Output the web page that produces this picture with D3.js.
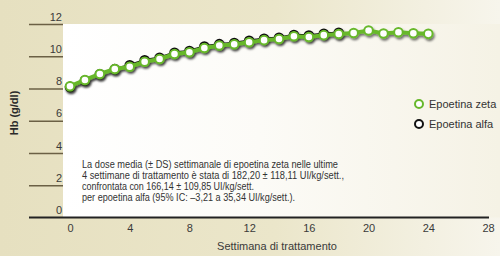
<html>
  <head>
    <style>
      body {
        margin:0;
        font-family:"Liberation Sans Narrow", "Liberation Sans", Arial, sans-serif;
      }
      .axis text {
        fill:#3a3a3a;
        font-size:11px;
      }
      .note text {
        fill:#333;
        font-size:10px;
      }
    </style>
  </head>
  <body>
    <div class="graph"></div>
    <script src="https://d3js.org/d3.v7.min.js"></script>
    <script>
      var weeks = d3.range(0, 25);
      var zeta = [8.14, 8.53, 8.90, 9.21, 9.35, 9.66, 9.83, 10.14, 10.25, 10.51, 10.67, 10.74, 10.87,
                  11.00, 11.07, 11.24, 11.19, 11.31, 11.38, 11.44, 11.60, 11.41, 11.49, 11.43, 11.39];
      var alfa = [8.10, 8.50, 8.88, 9.20, 9.44, 9.75, 9.91, 10.22, 10.33, 10.60, 10.75, 10.82, 10.96,
                  11.08, 11.15, 11.32, 11.28, 11.39, 11.46];
      var yTicks = [0, 2, 4, 6, 8, 10, 12];
      var xTicks = [0, 4, 8, 12, 16, 20, 24, 28];
      var seriesNames = ["Epoetina zeta", "Epoetina alfa"];
      var noteLines = [
        "La dose media (\u00b1 DS) settimanale di epoetina zeta nelle ultime",
        "4 settimane di trattamento \u00e8 stata di 182,20 \u00b1 118,11 UI/kg/sett.,",
        "confrontata con 166,14 \u00b1 109,85 UI/kg/sett.",
        "per epoetina alfa (95% IC: \u20133,21 a 35,34 UI/kg/sett.)."
      ];
      var noteWidths = [256, 262, 172, 213];

      var width = 500;
      var height = 256;
      var green = "#67b82c";

      var x = d3.scaleLinear().domain([0, 28]).range([70, 488]);
      var y = d3.scaleLinear().domain([0, 12]).range([217.5, 24]);

      var svg = d3.select(".graph").append("svg")
        .attr("width", width)
        .attr("height", height);

      var defs = svg.append("defs");
      var bg = defs.append("linearGradient").attr("id", "bg")
        .attr("x1", 0).attr("x2", 1).attr("y1", 0).attr("y2", 0);
      bg.append("stop").attr("offset", "0").attr("stop-color", "#e6e0c0");
      bg.append("stop").attr("offset", "0.55").attr("stop-color", "#ebe6ca");
      bg.append("stop").attr("offset", "1").attr("stop-color", "#f7f5ec");
      var plotBg = defs.append("linearGradient").attr("id", "plotbg")
        .attr("x1", 0).attr("x2", 1).attr("y1", 0).attr("y2", 0);
      plotBg.append("stop").attr("offset", "0").attr("stop-color", "#ffffff");
      plotBg.append("stop").attr("offset", "0.45").attr("stop-color", "#fcfbf7");
      plotBg.append("stop").attr("offset", "1").attr("stop-color", "#f5f2e5");
      var shadow = defs.append("filter").attr("id", "shadow")
        .attr("x", "-10%").attr("y", "-20%").attr("width", "130%").attr("height", "160%");
      shadow.append("feDropShadow")
        .attr("dx", 1.2).attr("dy", 2).attr("stdDeviation", 1)
        .attr("flood-color", "#000").attr("flood-opacity", 0.55);

      svg.append("rect")
        .attr("width", width).attr("height", height)
        .attr("fill", "url(#bg)");
      svg.append("rect")
        .attr("x", 63).attr("y", y(12))
        .attr("width", width - 63).attr("height", y(0) - y(12))
        .attr("fill", "url(#plotbg)");

      // y axis: ticks as long lines to the left of the plot, labels on top
      var yAxis = svg.append("g")
        .attr("class", "axis")
        .attr("transform", "translate(63,0)")
        .call(d3.axisLeft(y).tickValues(yTicks).tickSize(34).tickFormat(d3.format("d")));
      yAxis.select(".domain").remove();
      yAxis.selectAll(".tick line")
        .attr("stroke", "#6b6045")
        .attr("stroke-width", 1.5);
      yAxis.selectAll(".tick text")
        .attr("x", -1)
        .attr("dy", -4)
        .attr("text-anchor", "end");
      yAxis.selectAll(".tick").filter(function (d) { return d === 0; }).select("line").remove();

      svg.append("text")
        .attr("transform", "translate(18,113) rotate(-90)")
        .attr("text-anchor", "middle")
        .attr("font-size", 11)
        .attr("font-weight", "bold")
        .attr("fill", "#2a2a2a")
        .text("Hb (g/dl)");

      // x axis
      var xAxis = svg.append("g")
        .attr("class", "axis")
        .attr("transform", "translate(0," + y(0) + ")")
        .call(d3.axisBottom(x).tickValues(xTicks).tickSize(0).tickPadding(7).tickFormat(d3.format("d")));
      xAxis.select(".domain").remove();
      svg.append("line")
        .attr("x1", 29).attr("x2", 489)
        .attr("y1", y(0)).attr("y2", y(0))
        .attr("stroke", "#222")
        .attr("stroke-width", 2);

      svg.append("text")
        .attr("x", 277).attr("y", 250)
        .attr("text-anchor", "middle")
        .attr("font-size", 11)
        .attr("fill", "#3a3a3a")
        .text("Settimana di trattamento");

      var line = d3.line()
        .x(function (d, i) { return x(weeks[i]); })
        .y(function (d) { return y(d); });

      // Epoetina alfa (behind)
      var gA = svg.append("g").attr("filter", "url(#shadow)");
      gA.append("path")
        .datum(alfa)
        .attr("d", line)
        .attr("fill", "none")
        .attr("stroke", "#111")
        .attr("stroke-width", 2.5);
      gA.selectAll("circle")
        .data(alfa)
        .enter().append("circle")
        .attr("cx", function (d, i) { return x(weeks[i]); })
        .attr("cy", function (d) { return y(d); })
        .attr("r", 4.3)
        .attr("fill", "#fff")
        .attr("stroke", "#111")
        .attr("stroke-width", 2);

      // Epoetina zeta
      var gZ = svg.append("g").attr("filter", "url(#shadow)");
      gZ.append("path")
        .datum(zeta)
        .attr("d", line)
        .attr("fill", "none")
        .attr("stroke", green)
        .attr("stroke-width", 4);
      gZ.selectAll("circle")
        .data(zeta)
        .enter().append("circle")
        .attr("cx", function (d, i) { return x(weeks[i]); })
        .attr("cy", function (d) { return y(d); })
        .attr("r", 4.3)
        .attr("fill", "#fff")
        .attr("stroke", green)
        .attr("stroke-width", 2);

      // legend
      var legend = svg.append("g");
      var legendColors = [green, "#111"];
      seriesNames.forEach(function (name, i) {
        var g = legend.append("g").attr("transform", "translate(419," + (104 + i * 20) + ")");
        g.append("circle")
          .attr("r", 4)
          .attr("fill", "#fff")
          .attr("stroke", legendColors[i])
          .attr("stroke-width", 2);
        g.append("text")
          .attr("x", 10).attr("y", 4)
          .attr("font-size", 11)
          .attr("fill", "#333")
          .text(name);
      });

      // note
      var note = svg.append("g").attr("class", "note");
      note.selectAll("text")
        .data(noteLines)
        .enter().append("text")
        .attr("x", 82)
        .attr("y", function (d, i) { return 168 + i * 11; })
        .attr("textLength", function (d, i) { return noteWidths[i] || null; })
        .attr("lengthAdjust", "spacingAndGlyphs")
        .text(function (d) { return d; });
    </script>
  </body>
</html>
